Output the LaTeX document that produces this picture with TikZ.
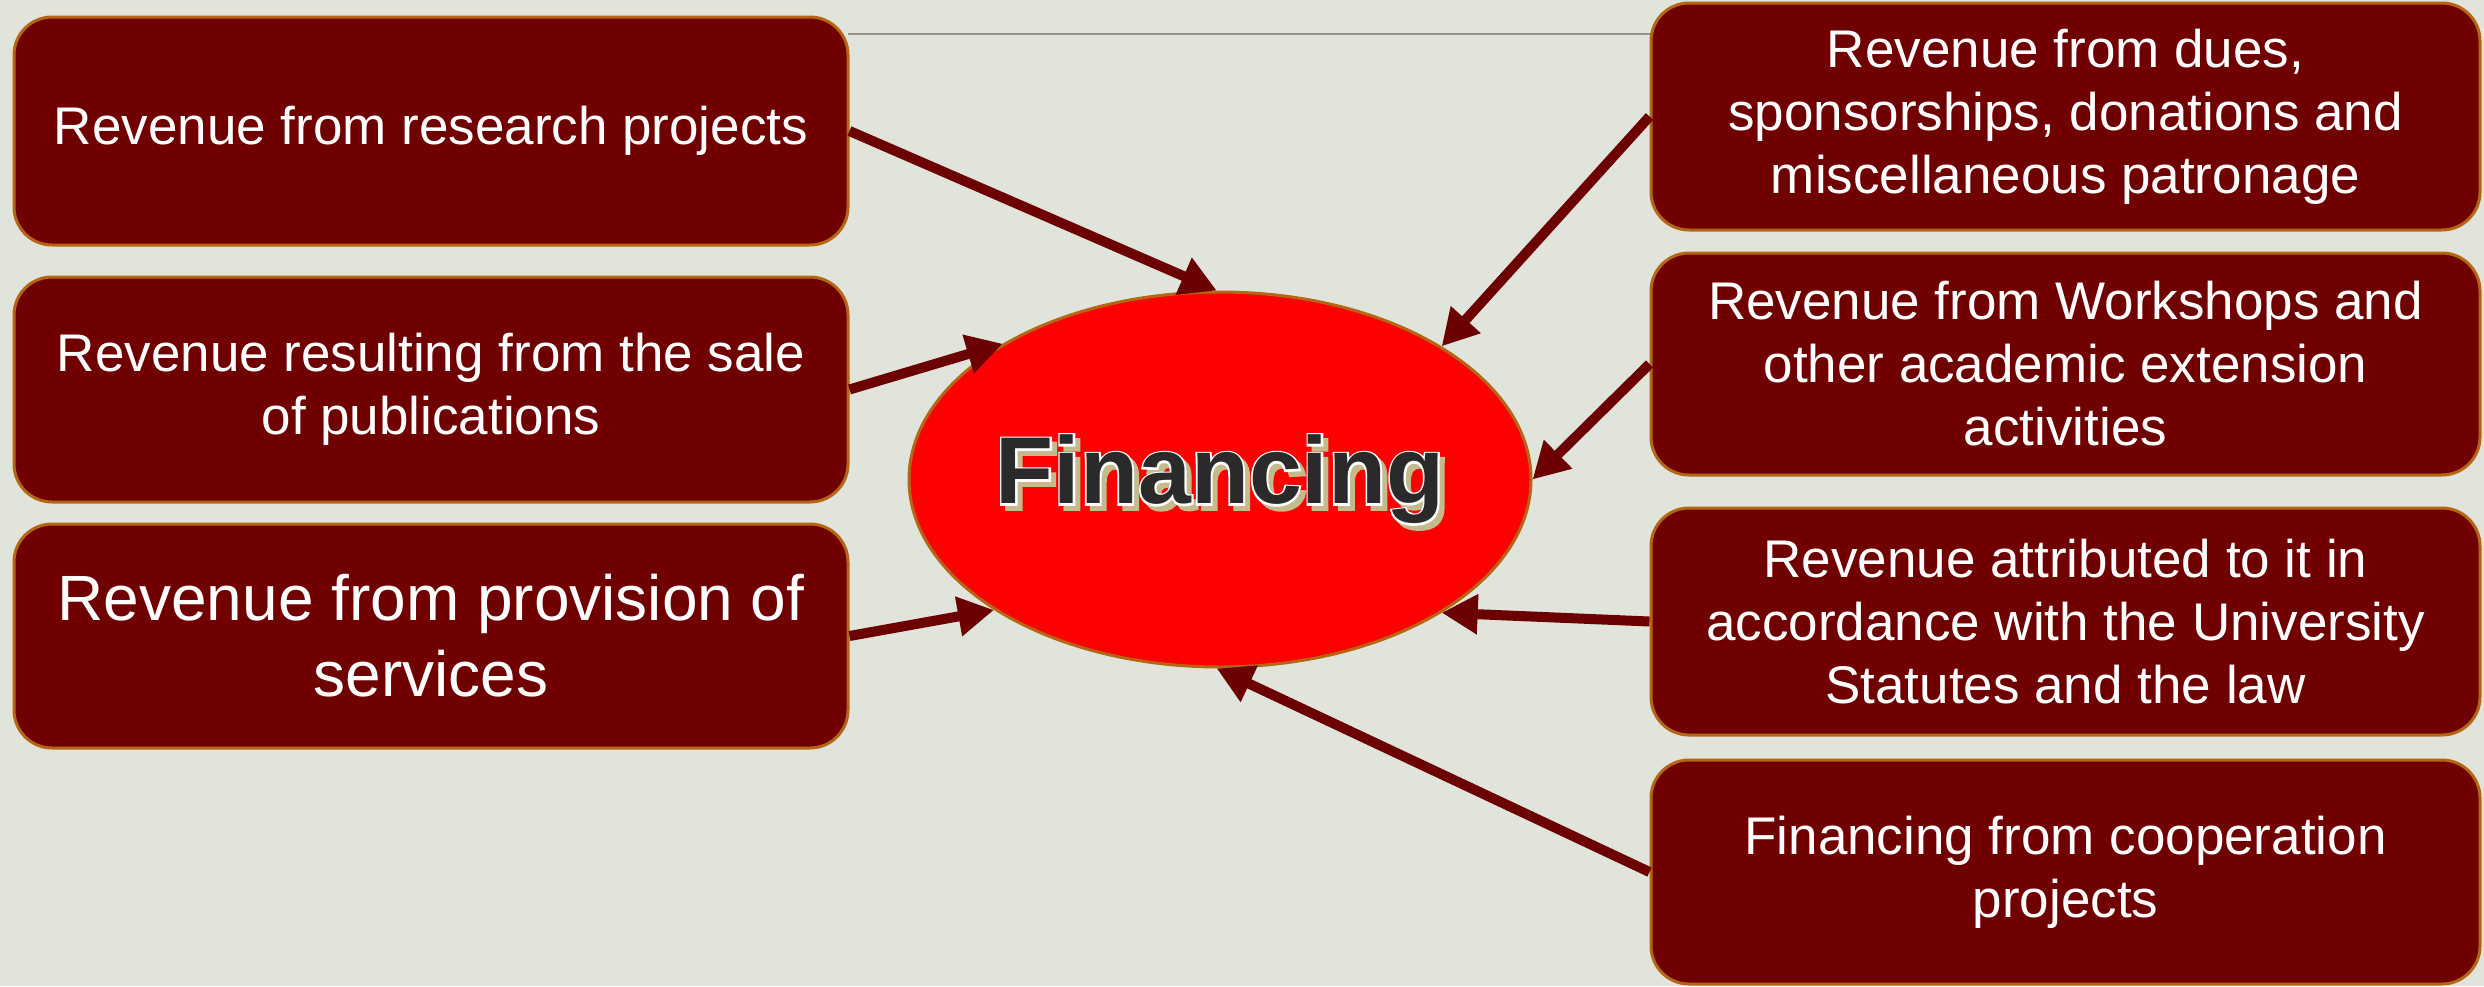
\documentclass[tikz,border=0pt]{standalone}
\usepackage{fontspec}
\setmainfont{Liberation Sans}
\newfontfamily\finoutline[FakeBold=4]{Liberation Sans Bold}
\usetikzlibrary{arrows.meta,shapes.geometric,calc}
\definecolor{bg}{RGB}{225,228,218}
\definecolor{boxfill}{RGB}{112,0,0}
\definecolor{boxline}{RGB}{180,102,20}
\definecolor{arrowcol}{RGB}{108,0,0}
\definecolor{shadowcol}{RGB}{196,186,140}
\definecolor{txtdark}{RGB}{42,42,42}
\definecolor{topline}{RGB}{145,150,145}
\tikzset{
  srcbox/.style={draw=boxline, line width=3pt, fill=boxfill, rounded corners=38pt,
    text=white, align=center, inner sep=0pt,
    font=\fontsize{53}{63}\selectfont},
  leftbox/.style={srcbox, minimum width=834pt},
  rightbox/.style={srcbox, minimum width=829pt},
  conn/.style={draw=arrowcol, line width=10pt, -{Triangle[length=36pt,width=38pt]}},
  finfont/.style={font=\fontsize{95}{95}\bfseries\selectfont, inner sep=0pt},
  finout/.style={font=\fontsize{95}{95}\finoutline, inner sep=0pt}
}
\begin{document}
\begin{tikzpicture}[x=1pt,y=-1pt]
\useasboundingbox (0,0) rectangle (2484,986);
\fill[bg] (0,0) rectangle (2484,986);

\coordinate (tl) at (848,34);
\coordinate (tr) at (1651,34);
\draw[topline, line width=2pt] (tl) -- (tr);

\node[leftbox, minimum height=228pt] (b1) at (431,131) {Revenue from research projects};
\node[leftbox, minimum height=225pt] (b2) at (431,389.5) {Revenue resulting from the sale\\of publications};
\node[leftbox, minimum height=224pt, font=\fontsize{64}{76}\selectfont] (b3) at (431,636) {Revenue from provision of\\services};

\node[rightbox, minimum height=227pt] (r1) at (2065.5,116.5) {Revenue from dues,\\sponsorships, donations and\\miscellaneous patronage};
\node[rightbox, minimum height=222pt] (r2) at (2065.5,364) {Revenue from Workshops and\\other academic extension\\activities};
\node[rightbox, minimum height=227pt] (r3) at (2065.5,621.5) {Revenue attributed to it in\\accordance with the University\\Statutes and the law};
\node[rightbox, minimum height=224pt] (r4) at (2065.5,872) {Financing from cooperation\\projects};

\node[ellipse, draw=boxline, line width=3pt, fill=red, minimum width=622pt, minimum height=375pt, inner sep=0pt] (fin) at (1220,479.5) {};

% Financing text: shadow, white outline, dark fill
\node[finout, text=shadowcol] (finshadow) at ($(fin.center)+(5,5)$) {Financing};
\node[finout, text=white] (finwhite) at (fin.center) {Financing};
\node[finfont, text=txtdark] (fintxt) at (fin.center) {Financing};

\draw[conn] (b1.east) -- (fin.91.5);
\draw[conn] (b2.east) -- (fin.148.7);
\draw[conn] (b3.east) -- (fin.210.2);
\draw[conn] (r1.west) -- (fin.31.4);
\draw[conn] (r2.west) -- (fin.0.8);
\draw[conn] (r3.west) -- (fin.329.4);
\draw[conn] (r4.west) -- (fin.269.5);
\end{tikzpicture}
\end{document}
